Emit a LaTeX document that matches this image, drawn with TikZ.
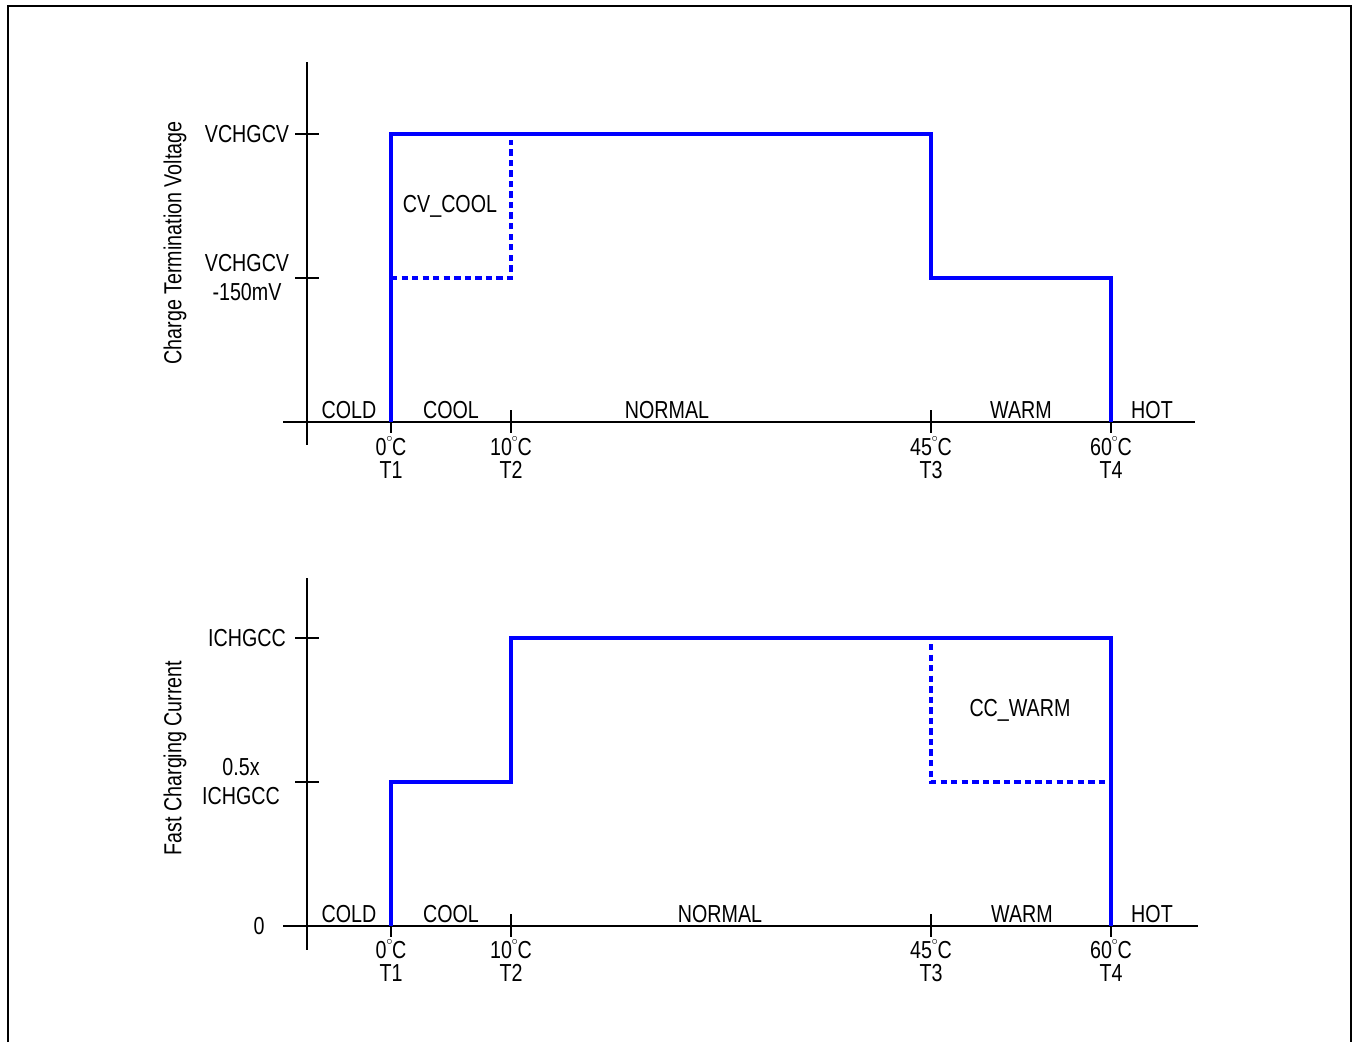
\documentclass[tikz,border=0pt]{standalone}
\usepackage{fontspec}
\setmainfont{Liberation Sans}[FakeStretch=0.8]
\usetikzlibrary{positioning}

\newcommand{\degr}{\kern-0.3pt\raisebox{1.05ex}{\fontsize{6}{6}\selectfont$\circ$}\kern-0.3pt}

\tikzset{
  axis/.style={line width=0.75pt},
  curve/.style={blue, line width=2.3pt},
  limit/.style={blue, line width=2.2pt, dash pattern=on 3.6pt off 2.4pt},
  lbl/.style={font=\fontsize{14}{16}\selectfont, inner sep=0pt},
}

\begin{document}
\begin{tikzpicture}[x=0.02cm, y=-0.02cm]
  \useasboundingbox (0,0) rectangle (1353,1042);
  % Frame, open at the bottom
  \draw[line width=0.9pt] (8,1042) -- (8,6) -- (1351,6) -- (1351,1042);

  % ---------- Upper plot: charge termination voltage ----------
  \draw[axis] (307,62) -- (307,445);
  \draw[axis] (283,422) -- (1195,422);
  \draw[axis] (295,134) -- (319,134);
  \draw[axis] (295,278) -- (319,278);
  \foreach \x in {391,511,931,1111}
    \draw[axis] (\x,410) -- (\x,433);

  \node[lbl, rotate=90] (vlabel) at (175,243) {Charge Termination Voltage};
  \node[lbl] (vtop) at (247,134) {VCHGCV};
  \node[lbl] (vlow) at (247,263) {VCHGCV};
  \node[lbl] (vlowb) at (247,292) {-150mV};

  % Zones
  \node[lbl] (vcold) at (349,410) {COLD};
  \node[lbl] (vcool) at (451,410) {COOL};
  \node[lbl] (vnormal) at (667,410) {NORMAL};
  \node[lbl] (vwarm) at (1021,410) {WARM};
  \node[lbl] (vhot) at (1152,410) {HOT};

  % Voltage curve
  \coordinate (A1) at (391,422);
  \coordinate (A2) at (391,134);
  \coordinate (A3) at (931,134);
  \coordinate (A4) at (931,278);
  \coordinate (A5) at (1111,278);
  \coordinate (A6) at (1111,422);
  \draw[curve, line join=miter] (A1) -- (A2) -- (A3) -- (A4) -- (A5) -- (A6);

  % CV_COOL limit
  \coordinate (B1) at (391,278);
  \coordinate (B2) at (511,278);
  \coordinate (B3) at (511,140);
  \draw[limit] (B1) -- (B2) -- (B3);
  \node[lbl] (cvcool) at (450,206) {CV\_COOL};

  % ---------- Lower plot: fast charging current ----------
  \draw[axis] (307,578) -- (307,950);
  \draw[axis] (283,926) -- (1198,926);
  \draw[axis] (295,638) -- (319,638);
  \draw[axis] (295,782) -- (319,782);
  \foreach \x in {391,511,931,1111}
    \draw[axis] (\x,914) -- (\x,937);

  \node[lbl, rotate=90] (ilabel) at (175,758) {Fast Charging Current};
  \node[lbl] (itop) at (247,638) {ICHGCC};
  \node[lbl] (ihalf) at (241,767) {0.5x};
  \node[lbl] (ihalfb) at (241,796) {ICHGCC};
  \node[lbl] (izero) at (259,926) {0};

  % Zones
  \node[lbl] (icold) at (349,914) {COLD};
  \node[lbl] (icool) at (451,914) {COOL};
  \node[lbl] (inormal) at (720,914) {NORMAL};
  \node[lbl] (iwarm) at (1022,914) {WARM};
  \node[lbl] (ihot) at (1152,914) {HOT};

  % Current curve
  \coordinate (C1) at (391,926);
  \coordinate (C2) at (391,782);
  \coordinate (C3) at (511,782);
  \coordinate (C4) at (511,638);
  \coordinate (C5) at (1111,638);
  \coordinate (C6) at (1111,926);
  \draw[curve, line join=miter] (C1) -- (C2) -- (C3) -- (C4) -- (C5) -- (C6);

  % CC_WARM limit
  \coordinate (D1) at (931,644);
  \coordinate (D2) at (931,782);
  \coordinate (D3) at (1105,782);
  \draw[limit] (D1) -- (D2) -- (D3);
  \node[lbl] (ccwarm) at (1020,710) {CC\_WARM};

  % Temperature thresholds under both axes
  \foreach \x/\t/\n in {391/0/1, 511/10/2, 931/45/3, 1111/60/4} {
    \node[lbl] (vt\n) at (\x,446) {\t\degr C};
    \node[lbl] (vn\n) at (\x,470) {T\n};
    \node[lbl] (it\n) at (\x,949) {\t\degr C};
    \node[lbl] (in\n) at (\x,973) {T\n};
  }
\end{tikzpicture}
\end{document}
